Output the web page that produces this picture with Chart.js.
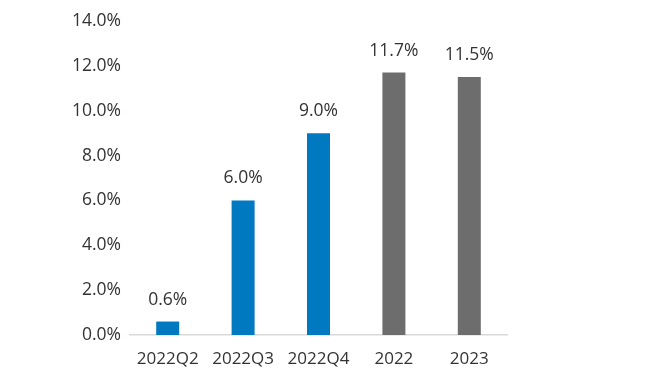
<!DOCTYPE html>
<html>
<head>
<meta charset="utf-8">
<script src="https://cdn.jsdelivr.net/npm/chart.js@4/dist/chart.umd.min.js"></script>
<style>
html,body{margin:0;padding:0;background:#fff;}
#wrap{width:660px;height:385px;}
</style>
</head>
<body>
<div id="wrap"><canvas id="c" width="660" height="385"></canvas></div>
<script>
const categories = ['2022Q2', '2022Q3', '2022Q4', '2022', '2023'];
const values = [0.6, 6.0, 9.0, 11.7, 11.5];
const barColors = ['#0079C1', '#0079C1', '#0079C1', '#6D6D6D', '#6D6D6D'];
const yTicks = [0, 2, 4, 6, 8, 10, 12, 14];

const FONT = '"Open Sans", "Noto Sans", sans-serif';
const TEXT = '#333333';

const labelPlugin = {
  id: 'valueLabels',
  afterDatasetsDraw(chart) {
    const ctx = chart.ctx;
    const meta = chart.getDatasetMeta(0);
    ctx.save();
    ctx.font = '17.5px ' + FONT;
    ctx.fillStyle = TEXT;
    ctx.textAlign = 'center';
    ctx.textBaseline = 'middle';
    meta.data.forEach((bar, i) => {
      ctx.fillText(values[i].toFixed(1) + '%', bar.x, bar.y - 22);
    });
    ctx.restore();
  }
};

new Chart(document.getElementById('c'), {
  type: 'bar',
  data: {
    labels: categories,
    datasets: [{
      data: values,
      backgroundColor: barColors,
      borderWidth: 0,
      barPercentage: 0.305,
      categoryPercentage: 1.0
    }]
  },
  options: {
    responsive: false,
    animation: false,
    devicePixelRatio: 1,
    layout: { padding: { left: 0, right: 153, top: 21, bottom: 0 } },
    plugins: { legend: { display: false }, tooltip: { enabled: false } },
    scales: {
      x: {
        grid: { display: false, drawTicks: false },
        border: { display: true, color: '#D9D9D9', width: 1.5 },
        ticks: { color: TEXT, font: { family: FONT, size: 17 }, padding: 14 },
        afterFit(scale) { scale.height = 50; }
      },
      y: {
        min: 0,
        max: 14,
        grid: { display: false, drawTicks: false },
        border: { display: false },
        afterBuildTicks(scale) { scale.ticks = yTicks.map(v => ({ value: v })); },
        ticks: {
          color: TEXT,
          font: { family: FONT, size: 17.5 },
          padding: 9,
          callback: v => Number(v).toFixed(1) + '%'
        },
        afterFit(scale) { scale.width = 130; }
      }
    }
  },
  plugins: [labelPlugin]
});
</script>
</body>
</html>
